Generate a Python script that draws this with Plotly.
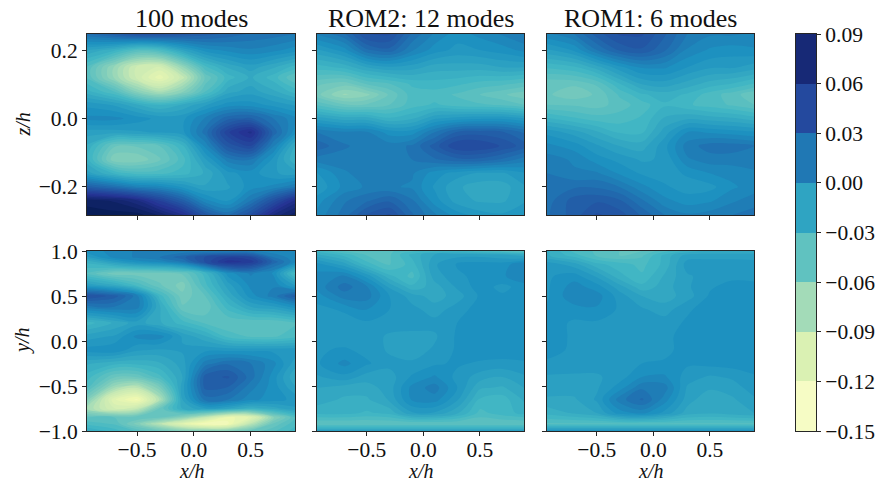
import plotly.graph_objects as go

FONT = "Liberation Serif"
INK = "#262626"

x_grid = [-0.94, -0.7, -0.5, -0.3, -0.1, 0.1, 0.3, 0.5, 0.7, 0.89]
z_grid_100 = [0.247, 0.2, 0.15, 0.12, 0.08, 0.04, 0.0, -0.04, -0.08, -0.12, -0.16, -0.2, -0.24, -0.282]
z_grid_rom = [0.247, 0.2, 0.15, 0.1, 0.07, 0.04, 0.0, -0.04, -0.08, -0.12, -0.16, -0.2, -0.24, -0.282]
y_grid_100 = [1.0, 0.93, 0.88, 0.75, 0.62, 0.5, 0.38, 0.2, 0.05, -0.1, -0.25, -0.4, -0.5, -0.65, -0.75, -0.85, -0.92, -1.0]
y_grid_rom2 = [1.0, 0.96, 0.85, 0.72, 0.6, 0.5, 0.35, 0.2, 0.05, -0.1, -0.25, -0.4, -0.52, -0.65, -0.8, -0.92, -0.98, -1.0]
y_grid_rom1 = [1.0, 0.95, 0.85, 0.72, 0.6, 0.5, 0.35, 0.2, 0.05, -0.1, -0.25, -0.4, -0.52, -0.65, -0.8, -0.92, -1.0]

top_100 = [
    [.02, .03, .04, .04, .035, .03, .025, .02, .018, .015],
    [-.015, -.025, -.04, -.035, -.015, 0, .005, .008, .005, 0],
    [-.04, -.07, -.095, -.10, -.07, -.035, -.02, -.012, -.02, -.03],
    [-.04, -.07, -.095, -.115, -.09, -.05, -.03, -.02, -.03, -.045],
    [-.025, -.04, -.065, -.08, -.065, -.04, -.018, -.012, -.02, -.03],
    [-.005, -.01, -.02, -.028, -.02, -.01, 0, 0, -.005, -.01],
    [.005, .005, 0, -.005, -.005, .01, .025, .028, .015, .005],
    [-.012, -.012, -.01, -.008, -.005, .018, .05, .065, .025, 0],
    [-.022, -.05, -.05, -.045, -.028, .005, .035, .045, .01, -.022],
    [-.025, -.062, -.062, -.052, -.036, -.01, .012, .015, -.005, -.026],
    [-.012, -.028, -.036, -.035, -.03, -.02, -.005, 0, -.008, -.012],
    [.03, .02, .01, .006, -.004, -.014, -.01, 0, .005, .015],
    [.085, .08, .07, .05, .03, .005, -.004, .015, .04, .065],
    [.09, .09, .09, .08, .065, .035, .02, .04, .07, .085],
]
top_rom2 = [
    [.01, .02, .04, .04, .02, .008, 0, .005, .01, .015],
    [-.01, 0, .02, .025, .01, 0, -.005, -.003, 0, .005],
    [-.03, -.025, -.015, -.01, -.012, -.018, -.018, -.018, -.015, -.015],
    [-.05, -.055, -.045, -.04, -.032, -.03, -.032, -.036, -.038, -.042],
    [-.055, -.07, -.065, -.05, -.036, -.036, -.04, -.045, -.05, -.055],
    [-.04, -.05, -.05, -.045, -.036, -.032, -.036, -.038, -.04, -.045],
    [-.012, -.018, -.018, -.026, -.022, -.01, -.006, -.004, -.004, -.008],
    [.015, .01, .01, 0, 0, .015, .028, .03, .028, .02],
    [.025, .016, .012, .012, .016, .03, .045, .045, .038, .03],
    [.012, .012, .012, .012, .015, .02, .025, .025, .02, .012],
    [-.004, .008, .012, .01, .01, 0, -.006, -.01, -.01, -.004],
    [-.008, .005, .01, .01, .008, -.004, -.014, -.018, -.018, -.01],
    [0, .014, .02, .026, .016, 0, -.012, -.016, -.016, -.01],
    [.005, .018, .034, .04, .022, .01, 0, -.006, -.008, -.004],
]
top_rom1 = [
    [.008, .015, .03, .04, .04, .028, .015, .01, .01, .008],
    [-.01, -.002, .015, .028, .032, .022, .008, .002, 0, .002],
    [-.032, -.028, -.018, -.005, .004, .004, -.003, -.008, -.008, -.012],
    [-.05, -.05, -.044, -.028, -.015, -.012, -.018, -.024, -.028, -.034],
    [-.05, -.055, -.05, -.038, -.028, -.024, -.028, -.036, -.042, -.05],
    [-.045, -.046, -.048, -.042, -.036, -.028, -.032, -.036, -.04, -.045],
    [-.026, -.032, -.036, -.036, -.032, -.02, -.016, -.018, -.02, -.024],
    [-.005, -.012, -.02, -.028, -.028, -.012, .003, .002, 0, -.002],
    [.005, 0, -.008, -.015, -.018, -.005, .012, .018, .018, .015],
    [.012, .008, 0, -.005, -.01, -.008, .008, .012, .012, .012],
    [.015, .01, .01, .002, -.004, -.006, -.002, .003, .005, .008],
    [.018, .02, .02, .015, .005, -.002, -.006, -.005, .002, .006],
    [.018, .03, .032, .028, .016, .005, 0, .002, .008, .012],
    [.02, .03, .04, .036, .026, .015, .01, .012, .015, .018],
]
bottom_100 = [
    [0, .005, .01, .01, .01, .01, .01, .01, .005, .005],
    [-.01, .005, .01, .015, .025, .04, .05, .045, .015, .005],
    [-.025, -.01, 0, .005, .015, .04, .06, .055, .025, .005],
    [-.04, -.055, -.055, -.055, -.05, -.03, 0, .01, .002, -.035],
    [-.01, -.02, -.035, -.05, -.06, -.035, -.012, .005, .008, -.01],
    [.04, .03, .012, -.03, -.055, -.045, -.02, 0, .012, .03],
    [.012, .015, .012, -.02, -.05, -.05, -.03, -.015, -.01, 0],
    [-.03, -.02, -.012, -.02, -.03, -.04, -.045, -.045, -.045, -.04],
    [-.012, -.008, .005, .006, -.01, -.02, -.035, -.04, -.04, -.035],
    [0, .002, -.008, -.01, -.008, -.005, -.005, -.005, -.005, -.005],
    [-.02, -.025, -.025, -.022, -.012, .012, .02, .015, .005, -.012],
    [-.03, -.05, -.05, -.035, -.015, .03, .034, .018, 0, -.02],
    [-.035, -.07, -.08, -.055, -.012, .03, .028, .012, 0, -.015],
    [-.06, -.11, -.125, -.08, -.015, .018, .015, .005, 0, -.005],
    [-.075, -.10, -.09, -.05, -.02, -.01, -.015, -.025, -.018, -.01],
    [-.045, -.045, -.045, -.05, -.065, -.09, -.12, -.11, -.065, -.04],
    [-.035, -.04, -.06, -.085, -.11, -.13, -.125, -.085, -.05, -.035],
    [-.02, -.03, -.04, -.05, -.06, -.06, -.06, -.05, -.04, -.03],
]
bottom_rom2 = [
    [-.03, -.04, -.045, -.04, -.035, -.03, -.03, -.035, -.04, -.045],
    [-.02, -.03, -.04, -.04, -.025, -.015, -.012, -.012, -.015, -.02],
    [0, -.012, -.03, -.04, -.03, -.01, -.002, 0, 0, .008],
    [.005, .01, -.005, -.025, -.035, -.012, -.005, 0, .002, .008],
    [.005, .018, .01, -.01, -.025, -.018, -.008, 0, -.005, 0],
    [0, .012, .012, -.003, -.012, -.018, -.012, -.002, -.002, 0],
    [-.005, -.002, .003, -.003, -.007, -.012, -.006, 0, 0, 0],
    [-.006, -.006, -.004, -.006, -.006, -.007, -.003, .001, .001, .001],
    [-.005, -.007, -.006, -.01, -.011, -.01, -.002, .002, .002, .002],
    [-.004, -.002, -.005, -.01, -.012, -.008, -.002, .001, .001, .001],
    [-.004, .005, -.002, -.007, -.008, -.004, -.002, -.004, -.005, -.004],
    [-.01, -.005, -.012, -.012, -.002, .004, -.005, -.012, -.015, -.01],
    [-.015, -.018, -.018, -.012, .005, .012, -.003, -.02, -.022, -.015],
    [-.018, -.022, -.022, -.014, .004, .006, -.008, -.028, -.03, -.02],
    [-.025, -.025, -.028, -.025, -.01, -.01, -.02, -.035, -.03, -.025],
    [-.045, -.045, -.045, -.045, -.045, -.045, -.045, -.045, -.045, -.045],
    [-.02, -.02, -.02, -.02, -.02, -.02, -.02, -.02, -.02, -.02],
    [-.01, -.01, -.01, -.01, -.01, -.01, -.01, -.01, -.01, -.01],
]
bottom_rom1 = [
    [-.02, -.035, -.04, -.045, -.045, -.035, -.025, -.02, -.02, -.02],
    [-.02, -.03, -.04, -.045, -.04, -.025, -.012, -.012, -.012, -.012],
    [-.005, -.012, -.025, -.03, -.035, -.025, -.006, -.005, -.005, -.006],
    [-.004, 0, -.01, -.025, -.032, -.02, -.01, -.006, -.005, -.006],
    [-.004, .006, 0, -.012, -.025, -.018, -.01, -.004, 0, 0],
    [-.004, .008, .006, -.006, -.015, -.018, -.012, -.002, 0, .001],
    [-.002, 0, .002, -.004, -.008, -.012, -.004, 0, .001, .001],
    [0, -.004, -.004, -.004, -.004, -.006, -.002, .001, .001, .001],
    [0, -.004, -.005, -.004, -.006, -.005, 0, .001, .001, .001],
    [-.001, -.004, -.005, -.006, -.006, -.005, 0, .001, .001, .001],
    [-.004, -.006, -.006, -.006, -.003, -.002, -.002, -.001, 0, .001],
    [-.01, -.01, -.01, -.006, .003, .004, -.006, -.01, -.008, -.004],
    [-.012, -.012, -.01, 0, .014, .012, -.01, -.014, -.012, -.006],
    [-.016, -.016, -.008, .012, .022, .006, -.012, -.02, -.016, -.01],
    [-.025, -.02, -.015, 0, .005, -.005, -.018, -.02, -.018, -.015],
    [-.04, -.04, -.04, -.04, -.04, -.04, -.04, -.04, -.04, -.04],
    [-.002, -.002, -.002, -.002, -.002, -.002, -.002, -.002, -.002, -.002],
]

titles = ["100 modes", "ROM2: 12 modes", "ROM1: 6 modes"]
top_panels = [(z_grid_100, top_100), (z_grid_rom, top_rom2), (z_grid_rom, top_rom1)]
bottom_panels = [(y_grid_100, bottom_100), (y_grid_rom2, bottom_rom2), (y_grid_rom1, bottom_rom1)]
cbar_levels = [-0.15, -0.12, -0.09, -0.06, -0.03, 0.0, 0.03, 0.06, 0.09]
cbar_labels = ["\u22120.15", "\u22120.12", "\u22120.09", "\u22120.06", "\u22120.03", "0.00", "0.03", "0.06", "0.09"]
x_ticks = [-0.5, 0.0, 0.5]
x_labels = ["\u22120.5", "0.0", "0.5"]
z_ticks = [-0.2, 0.0, 0.2]
z_labels = ["\u22120.2", "0.0", "0.2"]
y_ticks = [-1.0, -0.5, 0.0, 0.5, 1.0]
y_labels = ["\u22121.0", "\u22120.5", "0.0", "0.5", "1.0"]
LEVEL_STEP = 0.006

W, H = 881, 483
col_px = [(87, 295), (317, 524), (547, 754)]
row_px = [(34, 215), (251, 431)]


def xd(a, b):
    return [a / W, b / W]


def yd(a, b):
    return [1 - b / H, 1 - a / H]


TICK = dict(family=FONT, size=21.5, color="#111")
LABEL = dict(family=FONT, size=20, color="#111")

fig = go.Figure()
layout = {}
annotations = []
idx = 1
for r, panels in enumerate([top_panels, bottom_panels]):
    for c, (ygrid, zz) in enumerate(panels):
        suffix = "" if idx == 1 else str(idx)
        fig.add_trace(go.Contour(
            x=x_grid, y=ygrid, z=zz,
            colorscale="YlGnBu", zmin=-0.15, zmax=0.09, showscale=False,
            autocontour=False,
            contours=dict(start=-0.153, end=0.093, size=LEVEL_STEP, coloring="fill", showlines=False),
            line=dict(width=0, smoothing=1.0),
            xaxis="x" + suffix, yaxis="y" + suffix, hoverinfo="skip",
        ))
        common = dict(automargin=False, showgrid=False, zeroline=False, showline=True, linecolor=INK,
                      linewidth=1, mirror=True, ticks="outside", ticklen=4, tickwidth=1,
                      tickcolor=INK, tickfont=TICK)
        xa = dict(common, domain=xd(*col_px[c]), range=[-0.94, 0.89], tickmode="array",
                  tickvals=x_ticks, ticktext=x_labels if r == 1 else [""] * 3,
                  ticklabelstandoff=-5, anchor="y" + suffix)
        ya = dict(common, domain=yd(*row_px[r]),
                  range=[-0.282, 0.247] if r == 0 else [-1, 1], tickmode="array",
                  tickvals=z_ticks if r == 0 else y_ticks,
                  anchor="x" + suffix)
        labels = z_labels if r == 0 else y_labels
        ya["ticktext"] = labels if c == 0 else [""] * len(labels)
        if r == 1:
            annotations.append(dict(text="<i>x/h</i>", x=(col_px[c][0] + col_px[c][1]) / 2 / W,
                                    y=1 - 471 / H, xref="paper", yref="paper", xanchor="center",
                                    yanchor="middle", showarrow=False, font=LABEL))
        if c == 0:
            annotations.append(dict(text="<i>z/h</i>" if r == 0 else "<i>y/h</i>", x=22 / W,
                                    y=1 - sum(row_px[r]) / 2 / H, xref="paper", yref="paper",
                                    xanchor="center", yanchor="middle", textangle=-90,
                                    showarrow=False, font=LABEL))
        layout["xaxis" + suffix] = xa
        layout["yaxis" + suffix] = ya
        idx += 1

mids = [(a + b) / 2 for a, b in zip(cbar_levels[:-1], cbar_levels[1:])]
fig.add_trace(go.Heatmap(
    x=[0, 1], y=cbar_levels, z=[[m] for m in mids],
    colorscale="YlGnBu", zmin=-0.15, zmax=0.09, showscale=False,
    xaxis="x7", yaxis="y7", hoverinfo="skip",
))
layout["xaxis7"] = dict(automargin=False, domain=xd(796, 816), range=[0, 1], showticklabels=False,
                        ticks="", showgrid=False, zeroline=False, showline=True, mirror=True,
                        linecolor=INK, linewidth=1, anchor="y7")
layout["yaxis7"] = dict(automargin=False, domain=yd(34, 431), range=[-0.15, 0.09], side="right",
                        anchor="x7", tickmode="array", tickvals=cbar_levels, ticktext=cbar_labels,
                        ticks="outside", ticklen=4, tickwidth=1, tickcolor=INK, tickfont=TICK,
                        showgrid=False, zeroline=False, showline=True, mirror=True,
                        linecolor=INK, linewidth=1)

for c, t in enumerate(titles):
    a, b = col_px[c]
    annotations.append(dict(text=t, x=(a + b) / 2 / W, y=1 - 35 / H,
                            xref="paper", yref="paper", xanchor="center", yanchor="bottom",
                            showarrow=False, font=dict(family=FONT, size=26, color="#111")))

fig.update_layout(width=W, height=H, margin=dict(l=0, r=0, t=0, b=0),
                  paper_bgcolor="white", plot_bgcolor="white", showlegend=False,
                  annotations=annotations, font=dict(family=FONT), **layout)
fig.write_html("out.html", config={"displayModeBar": False},
               post_script="document.body.style.margin='0';document.body.style.overflow='hidden';")
